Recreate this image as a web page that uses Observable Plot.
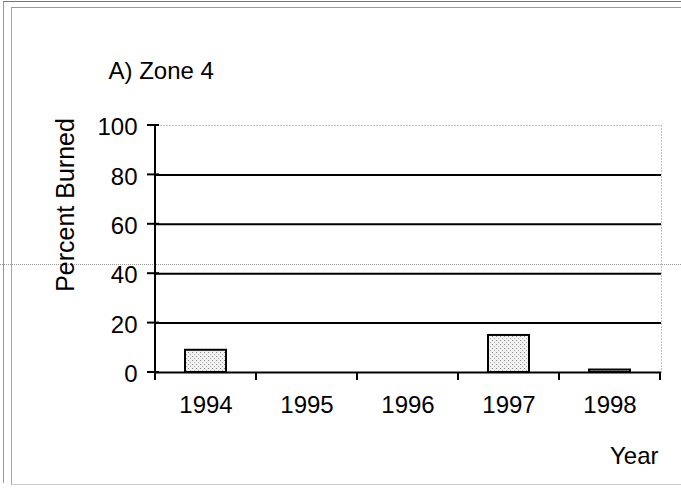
<!DOCTYPE html>
<html>
<head>
<meta charset="utf-8">
<script src="https://cdn.jsdelivr.net/npm/d3@7"></script>
<script src="https://cdn.jsdelivr.net/npm/@observablehq/plot@0.6"></script>
<style>
  html, body { margin: 0; padding: 0; background: #fff; }
  #wrap { position: relative; width: 681px; height: 493px; overflow: hidden; font-family: "Liberation Sans", Arial, sans-serif; }
  #wrap svg { position: absolute; left: 0; top: 0; }
  .edge { position: absolute; pointer-events: none; }
</style>
</head>
<body>
<div id="wrap">
  <div class="edge" style="left:3px;top:1px;width:678px;height:481px;border-top:1px solid #777;border-left:1px solid #999;"></div>
  <div class="edge" style="left:11px;top:7px;width:670px;height:476px;border-top:1px solid #999;border-left:1px solid #aaa;border-bottom:1px solid #ccc;"></div>
  <div class="edge" style="left:0;top:264px;width:681px;height:0;border-top:1px dotted #999;"></div>
</div>
<script>
const years = ["1994", "1995", "1996", "1997", "1998"];
const burned = [9, 0, 0, 15, 1];
const yTicks = [0, 20, 40, 60, 80, 100];
const gridValues = [20, 40, 60, 80];
const titleText = "A) Zone 4";
const yLabel = "Percent Burned";
const xLabel = "Year";

const data = years.map((y, i) => ({year: y, value: burned[i]}));

const plot = Plot.plot({
  width: 681,
  height: 493,
  marginLeft: 154,
  marginRight: 20,
  marginTop: 125,
  marginBottom: 121,
  style: {fontFamily: "'Liberation Sans', Arial, sans-serif", fontSize: "24px", background: "transparent", overflow: "visible"},
  x: {domain: years, paddingInner: 0.59, paddingOuter: 0.295, label: null},
  y: {domain: [0, 100], label: null},
  marks: [
    Plot.frame({stroke: "#888", strokeDasharray: "1,2"}),
    Plot.ruleY(gridValues, {stroke: "#000", strokeWidth: 2}),
    Plot.barY(data, {x: "year", y: "value", fill: "url(#stipple)", stroke: "#000", strokeWidth: 2}),
    Plot.ruleY([0], {stroke: "#000", strokeWidth: 2}),
    Plot.axisY({ticks: yTicks, tickSize: 0, tickPadding: 17, dy: 2, fontSize: 24, fill: "#000", label: null}),
    Plot.axisX({tickSize: 0, tickPadding: 23, fontSize: 24, fill: "#000", label: null}),
    Plot.text([titleText], {frameAnchor: "top-left", textAnchor: "start", lineAnchor: "bottom", dx: -46, dy: -47, fontSize: 24, fill: "#000"}),
    Plot.text([yLabel], {frameAnchor: "left", rotate: -90, textAnchor: "middle", lineAnchor: "bottom", dx: -81, dy: -44, fontSize: 25, fill: "#000"}),
    Plot.text([xLabel], {frameAnchor: "bottom-right", textAnchor: "end", lineAnchor: "bottom", dx: -3, dy: 91, fontSize: 24, fill: "#000"})
  ]
});

document.getElementById("wrap").appendChild(plot);

// stipple pattern for bars
const svg = d3.select(plot);
const defs = svg.insert("defs", ":first-child");
const pat = defs.append("pattern").attr("id", "stipple").attr("patternUnits", "userSpaceOnUse")
  .attr("width", 4).attr("height", 4);
pat.append("rect").attr("width", 4).attr("height", 4).attr("fill", "#f1f1f1");
pat.append("rect").attr("x", 0).attr("y", 0).attr("width", 1).attr("height", 1).attr("fill", "#888");
pat.append("rect").attr("x", 2).attr("y", 2).attr("width", 1).attr("height", 1).attr("fill", "#aaa");

// axis lines and Excel-style ticks from the library's scales
const xs = plot.scale("x");
const ys = plot.scale("y");
const step = xs.step;
const gap = (step - xs.bandwidth) / 2;
const bounds = years.map(y => xs.apply(y) - gap);
bounds.push(xs.apply(years[years.length - 1]) + xs.bandwidth + gap);
const x0 = bounds[0];
const y0 = ys.apply(0);
const g = svg.append("g").attr("stroke", "#000");
g.append("line").attr("x1", x0).attr("x2", x0).attr("y1", ys.apply(100)).attr("y2", y0 + 7).attr("stroke-width", 2);
g.selectAll(".xt").data(bounds).join("line")
  .attr("x1", d => d).attr("x2", d => d).attr("y1", y0).attr("y2", y0 + 8).attr("stroke-width", 2);
g.selectAll(".yt").data(yTicks).join("line")
  .attr("x1", x0 - 8).attr("x2", x0 + 4).attr("y1", d => ys.apply(d)).attr("y2", d => ys.apply(d)).attr("stroke-width", 2);
</script>
</body>
</html>
